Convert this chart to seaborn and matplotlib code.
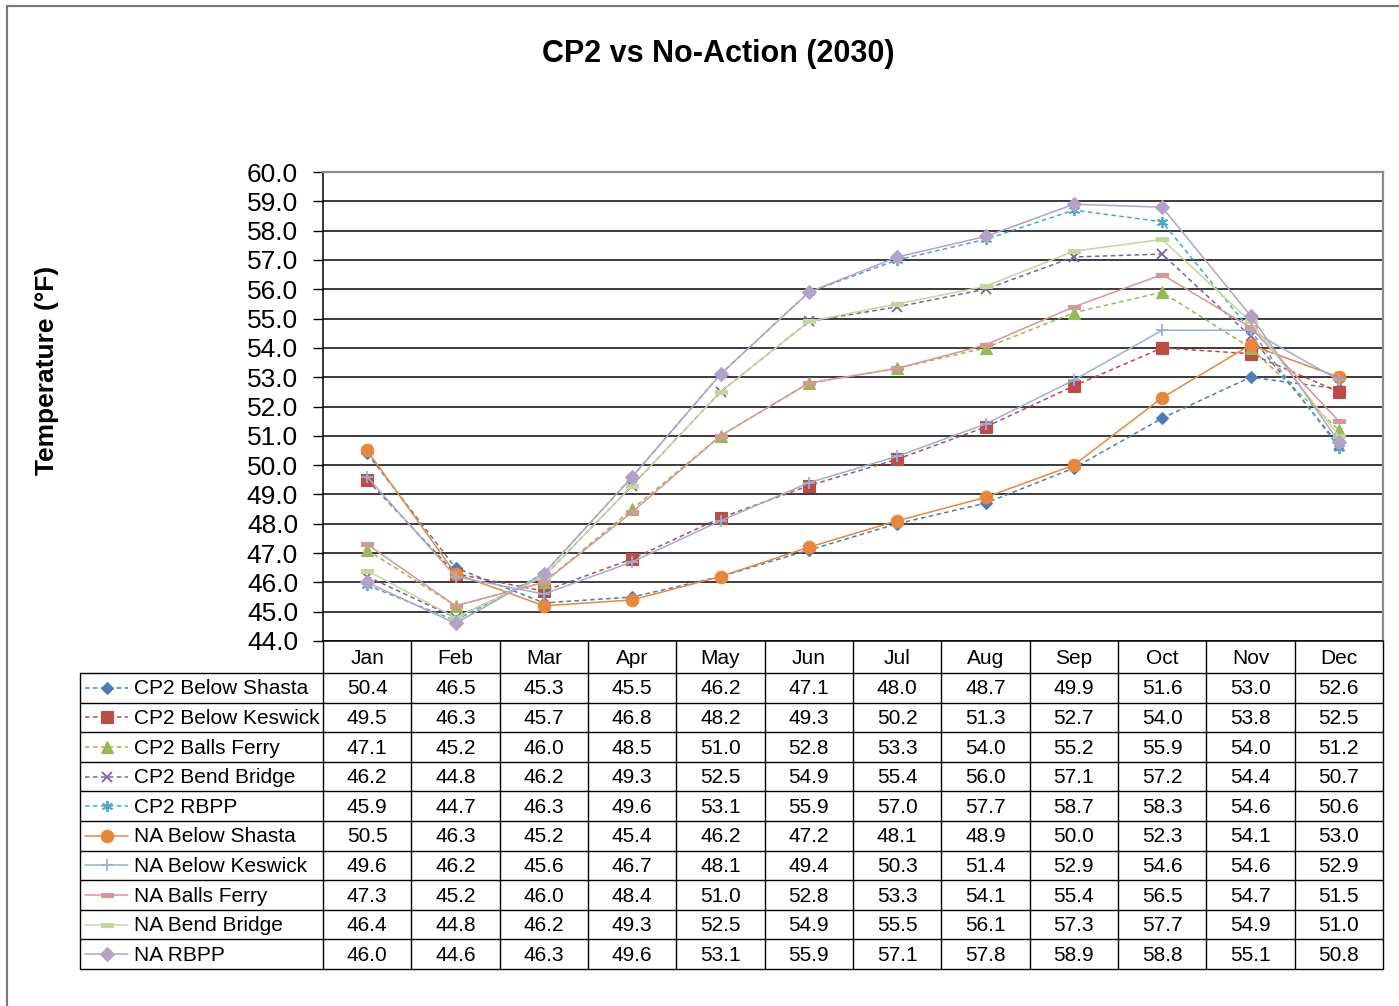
import numpy as np
import pandas as pd
import matplotlib
matplotlib.use("Agg")
import matplotlib.pyplot as plt
from matplotlib.lines import Line2D
from matplotlib.path import Path
import seaborn as sns

# ---- data -------------------------------------------------------------
months = ["Jan", "Feb", "Mar", "Apr", "May", "Jun",
          "Jul", "Aug", "Sep", "Oct", "Nov", "Dec"]

series_names = ["CP2 Below Shasta", "CP2 Below Keswick", "CP2 Balls Ferry",
                "CP2 Bend Bridge", "CP2 RBPP", "NA Below Shasta",
                "NA Below Keswick", "NA Balls Ferry", "NA Bend Bridge", "NA RBPP"]

cp2_below_shasta = [50.4, 46.5, 45.3, 45.5, 46.2, 47.1, 48.0, 48.7, 49.9, 51.6, 53.0, 52.6]
cp2_below_keswick = [49.5, 46.3, 45.7, 46.8, 48.2, 49.3, 50.2, 51.3, 52.7, 54.0, 53.8, 52.5]
cp2_balls_ferry = [47.1, 45.2, 46.0, 48.5, 51.0, 52.8, 53.3, 54.0, 55.2, 55.9, 54.0, 51.2]
cp2_bend_bridge = [46.2, 44.8, 46.2, 49.3, 52.5, 54.9, 55.4, 56.0, 57.1, 57.2, 54.4, 50.7]
cp2_rbpp = [45.9, 44.7, 46.3, 49.6, 53.1, 55.9, 57.0, 57.7, 58.7, 58.3, 54.6, 50.6]
na_below_shasta = [50.5, 46.3, 45.2, 45.4, 46.2, 47.2, 48.1, 48.9, 50.0, 52.3, 54.1, 53.0]
na_below_keswick = [49.6, 46.2, 45.6, 46.7, 48.1, 49.4, 50.3, 51.4, 52.9, 54.6, 54.6, 52.9]
na_balls_ferry = [47.3, 45.2, 46.0, 48.4, 51.0, 52.8, 53.3, 54.1, 55.4, 56.5, 54.7, 51.5]
na_bend_bridge = [46.4, 44.8, 46.2, 49.3, 52.5, 54.9, 55.5, 56.1, 57.3, 57.7, 54.9, 51.0]
na_rbpp = [46.0, 44.6, 46.3, 49.6, 53.1, 55.9, 57.1, 57.8, 58.9, 58.8, 55.1, 50.8]

all_values = [cp2_below_shasta, cp2_below_keswick, cp2_balls_ferry, cp2_bend_bridge,
              cp2_rbpp, na_below_shasta, na_below_keswick, na_balls_ferry,
              na_bend_bridge, na_rbpp]

yticks = np.arange(44, 61, 1)

# ---- styles -----------------------------------------------------------
dash_marker = Path([(-1, -0.42), (1, -0.42), (1, 0.42), (-1, 0.42), (-1, -0.42)],
                   [Path.MOVETO, Path.LINETO, Path.LINETO, Path.LINETO, Path.CLOSEPOLY])
dashed = (0, (3, 2.2))
styles = [
    dict(color="#4A7EBB", ls=dashed, marker="D", ms=6.0, mew=0.8),
    dict(color="#BE4B48", ls=dashed, marker="s", ms=8.0, mew=0.8),
    dict(color="#98B954", ls=dashed, marker="^", ms=8.0, mew=0.8),
    dict(color="#7D60A0", ls=dashed, marker="x", ms=7.5, mew=1.3),
    dict(color="#46AAC5", ls=dashed, marker=(6, 2, 0), ms=8.0, mew=1.3),
    dict(color="#E8873A", ls="-", marker="o", ms=9.0, mew=0.8),
    dict(color="#95B3D7", ls="-", marker="+", ms=9.0, mew=1.3),
    dict(color="#D99694", ls="-", marker=dash_marker, ms=8.0, mew=0.8),
    dict(color="#C3D69B", ls="-", marker=dash_marker, ms=8.0, mew=0.8),
    dict(color="#B3A2C7", ls="-", marker="D", ms=7.0, mew=0.8),
]

sns.set_style("white")
plt.rcParams["font.family"] = ["Liberation Sans", "DejaVu Sans"]
plt.rcParams["text.color"] = "black"
plt.rcParams["ytick.color"] = "black"
plt.rcParams["ytick.labelcolor"] = "black"
plt.rcParams["axes.labelcolor"] = "black"

W, H = 1399, 1006
fig = plt.figure(figsize=(W / 100, H / 100), dpi=100)

# plot area (pixel layout)
px_left, px_right, px_top, px_bottom = 323, 1383, 172, 641
ax = fig.add_axes([px_left / W, 1 - px_bottom / H,
                   (px_right - px_left) / W, (px_bottom - px_top) / H])

x = np.arange(len(months))
long_df = pd.DataFrame({
    "x": np.tile(x, len(series_names)),
    "temp": np.concatenate(all_values),
    "series": np.repeat(series_names, len(months)),
})

for name, st in zip(series_names, styles):
    sub = long_df[long_df["series"] == name]
    sns.lineplot(data=sub, x="x", y="temp", ax=ax, color=st["color"],
                 linestyle=st["ls"], linewidth=1.1, marker=st["marker"],
                 markersize=st["ms"], markeredgecolor=st["color"],
                 markerfacecolor=st["color"], markeredgewidth=st["mew"],
                 legend=False, errorbar=None)

ax.set_xlim(-0.5, 11.5)
ax.set_ylim(44, 60)
ax.set_yticks(yticks)
ax.set_yticklabels([f"{v:.1f}" for v in yticks], fontsize=19, color="black")
ax.set_xticks([])
ax.set_xlabel("")
ax.set_ylabel("")
ax.tick_params(axis="y", direction="out", length=7, width=1, color="black",
               pad=11, left=True)
ax.grid(axis="y", color="#1a1a1a", linewidth=1.2)
ax.set_axisbelow(True)
for side in ["left", "bottom"]:
    ax.spines[side].set_color("black")
    ax.spines[side].set_linewidth(1.1)
for side in ["top", "right"]:
    ax.spines[side].set_color("#8c8c8c")
    ax.spines[side].set_linewidth(1.6)

# ---- data table beneath the plot ----------------------------------------
tab_left_px, tab_bottom_px = 80, 969
col_w = (px_right - px_left) / 12.0
label_cols = (px_left - tab_left_px) / col_w
tax = fig.add_axes([tab_left_px / W, 1 - tab_bottom_px / H,
                    (px_right - tab_left_px) / W, (tab_bottom_px - px_bottom) / H])
x_min = -0.5 - label_cols
tax.set_xlim(x_min, 11.5)
header_h = 32.0
row_h = (tab_bottom_px - px_bottom - header_h) / 10.0
tax.set_ylim(tab_bottom_px - px_bottom, 0)
tax.axis("off")

lc = "black"
lw = 1.0
# vertical column separators (header + body)
for b in np.arange(-0.5, 12.0, 1.0):
    tax.plot([b, b], [0, header_h + 10 * row_h], color=lc, lw=lw, clip_on=False)
# horizontal row lines
for r in range(11):
    yy = header_h + r * row_h
    tax.plot([x_min, 11.5], [yy, yy], color=lc, lw=lw, clip_on=False)
tax.plot([x_min, x_min], [header_h, header_h + 10 * row_h], color=lc, lw=lw,
         clip_on=False)

# month header
for i, m in enumerate(months):
    tax.text(i, header_h / 2 + 1, m, ha="center", va="center", fontsize=15)

# rows: legend key, name, values
key_x0 = x_min + 5 / col_w
key_x1 = x_min + 48 / col_w
text_x = x_min + 54 / col_w
for r, (name, st, vals) in enumerate(zip(series_names, styles, all_values)):
    yc = header_h + (r + 0.5) * row_h
    tax.add_line(Line2D([key_x0, key_x1], [yc, yc], color=st["color"],
                        linestyle=st["ls"], linewidth=1.1))
    tax.add_line(Line2D([(key_x0 + key_x1) / 2], [yc], color=st["color"],
                        linestyle="none", marker=st["marker"], markersize=st["ms"],
                        markeredgecolor=st["color"], markerfacecolor=st["color"],
                        markeredgewidth=st["mew"]))
    tax.text(text_x, yc + 1, name, ha="left", va="center", fontsize=15)
    for i, v in enumerate(vals):
        tax.text(i, yc + 1, f"{v:.1f}", ha="center", va="center", fontsize=15)

# ---- title, axis label and chart frame ---------------------------------
fig.text(718 / W, 1 - 54 / H, "CP2 vs No-Action (2030)", ha="center",
         va="center", fontsize=22, fontweight="bold")
fig.text(47 / W, 1 - 370 / H, "Temperature (°F)", ha="center", va="center",
         rotation=90, fontsize=19, fontweight="bold")
fig.add_artist(Line2D([7 / W, 7 / W, 1.02], [-0.02, 1 - 6 / H, 1 - 6 / H],
                      transform=fig.transFigure, color="#7a7a7a", lw=1.6))

fig.savefig("out.png", dpi=100)
